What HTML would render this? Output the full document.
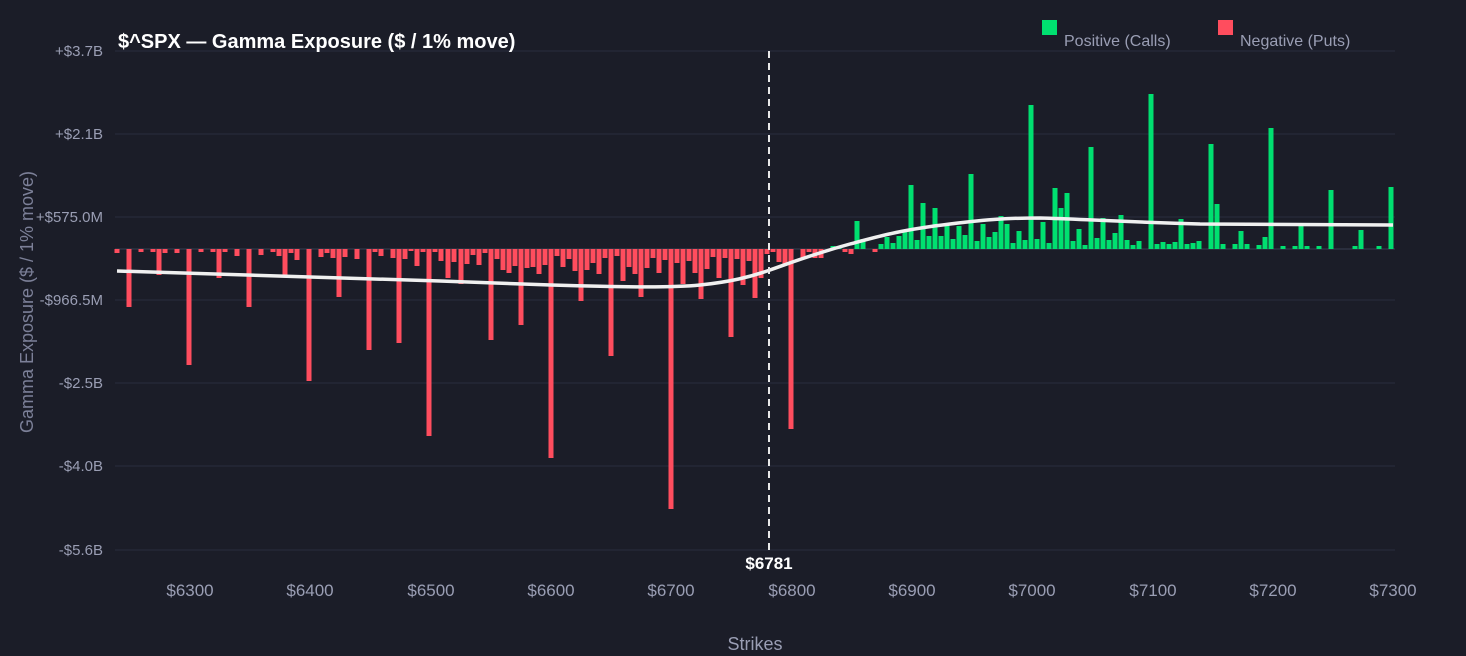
<!DOCTYPE html>
<html><head><meta charset="utf-8"><style>
body{margin:0;background:#1b1d28;}
svg{display:block;font-family:"Liberation Sans",sans-serif;}
</style></head><body>
<svg id="s" width="1466" height="656" viewBox="0 0 1466 656">
<rect width="1466" height="656" fill="#1b1d28"/>
<g stroke="#2a2d3e" stroke-width="1">
<line x1="115" x2="1395" y1="51" y2="51"/><line x1="115" x2="1395" y1="134" y2="134"/>
<line x1="115" x2="1395" y1="217" y2="217"/><line x1="115" x2="1395" y1="300" y2="300"/>
<line x1="115" x2="1395" y1="383" y2="383"/><line x1="115" x2="1395" y1="466" y2="466"/>
<line x1="115" x2="1395" y1="550" y2="550"/>
</g>
<line x1="115" x2="1395" y1="249" y2="249" stroke="#3a3e52" stroke-width="1"/>
<g font-size="15" fill="#9a9eb4" text-anchor="end">
<text x="103" y="56">+$3.7B</text><text x="103" y="139">+$2.1B</text>
<text x="103" y="222">+$575.0M</text><text x="103" y="305">-$966.5M</text>
<text x="103" y="388">-$2.5B</text><text x="103" y="471">-$4.0B</text>
<text x="103" y="555">-$5.6B</text>
</g>
<g font-size="17" fill="#9a9eb4" text-anchor="middle">
<text x="190" y="596">$6300</text><text x="310" y="596">$6400</text><text x="431" y="596">$6500</text>
<text x="551" y="596">$6600</text><text x="671" y="596">$6700</text><text x="792" y="596">$6800</text>
<text x="912" y="596">$6900</text><text x="1032" y="596">$7000</text><text x="1153" y="596">$7100</text>
<text x="1273" y="596">$7200</text><text x="1393" y="596">$7300</text>
<text x="755" y="650" font-size="18">Strikes</text>
</g>
<text transform="translate(33,302) rotate(-90)" font-size="18" fill="#7c8098" text-anchor="middle">Gamma Exposure ($ / 1% move)</text>
<g id="bars"></g>
<path d="M117,271 C250,275 380,280 440,281 C500,283 551,285 551,285 C620,287 670,288 700,285 C730,282 750,277 770,270 C790,263 810,255 850,244 C880,236 900,230 950,224 C990,219 1010,218 1040,218 C1080,219 1100,221 1200,224 C1300,225 1393,225 1393,225" fill="none" stroke="#f0f0f0" stroke-width="3.5"/>
<line x1="769" x2="769" y1="51" y2="550" stroke="#e8e8e8" stroke-width="2" stroke-dasharray="7,5"/>
<text x="769" y="569" font-size="17" font-weight="bold" fill="#fff" text-anchor="middle">$6781</text>
<text x="118" y="48" font-size="20" font-weight="bold" fill="#fff">$^SPX — Gamma Exposure ($ / 1% move)</text>
<rect x="1042" y="20" width="15" height="15" fill="#00e070"/>
<text x="1064" y="46" font-size="16" fill="#9a9eb4">Positive (Calls)</text>
<rect x="1218" y="20" width="15" height="15" fill="#ff4d5e"/>
<text x="1240" y="46" font-size="16" fill="#9a9eb4">Negative (Puts)</text>
</svg>
<script>
var d=[[117,253],[129,307],[141,252],[153,252],[159,275],[165,253],[177,253],[189,365],[201,252],[213,252],[219,278],[225,252],[237,256],[249,307],[261,255],[273,252],[279,256],[285,276],[291,253],[297,260],[309,381],[321,257],[327,253],[333,258],[339,297],[345,257],[357,259],[369,350],[375,252],[381,256],[393,258],[399,343],[405,259],[411,251],[417,266],[423,252],[429,436],[435,252],[441,261],[448,278],[454,262],[461,284],[467,264],[473,255],[479,265],[485,253],[491,340],[497,259],[503,270],[509,273],[515,266],[521,325],[527,268],[533,267],[539,274],[545,265],[551,458],[557,256],[563,267],[569,259],[575,271],[581,301],[587,270],[593,263],[599,274],[605,258],[611,356],[617,256],[623,281],[629,267],[635,274],[641,297],[647,268],[653,258],[659,273],[665,260],[671,509],[677,263],[683,284],[689,261],[695,273],[701,299],[707,269],[713,257],[719,278],[725,258],[731,337],[737,259],[743,285],[749,261],[755,298],[761,278],[767,254],[773,252],[779,262],[785,265],[791,429],[803,258],[809,252],[815,258],[821,258],[833,246],[839,246],[845,252],[851,254],[857,221],[863,239],[875,252],[881,244],[887,237],[893,243],[899,236],[905,230],[911,185],[917,240],[923,203],[929,236],[935,208],[941,236],[947,224],[953,239],[959,226],[965,235],[971,174],[977,241],[983,224],[989,237],[995,232],[1001,216],[1007,224],[1013,243],[1019,231],[1025,240],[1031,105],[1037,239],[1043,222],[1049,243],[1055,188],[1061,208],[1067,193],[1073,241],[1079,229],[1085,245],[1091,147],[1097,238],[1103,218],[1109,240],[1115,233],[1121,215],[1127,240],[1133,245],[1139,241],[1151,94],[1157,244],[1163,242],[1169,244],[1175,242],[1181,219],[1187,244],[1193,243],[1199,241],[1211,144],[1217,204],[1223,244],[1235,244],[1241,231],[1247,244],[1259,245],[1265,237],[1271,128],[1283,246],[1295,246],[1301,225],[1307,246],[1319,246],[1331,190],[1355,246],[1361,230],[1379,246],[1391,187]];
var g=document.getElementById('bars'),h='';
d.forEach(function(b){var x=b[0],y=b[1],z=249;var top=Math.min(y,z),ht=Math.max(Math.abs(y-z),1);
h+='<rect x="'+(x-2.5)+'" y="'+top+'" width="5" height="'+ht+'" fill="'+(y<z?'#00e070':'#ff4d5e')+'"/>';});
g.innerHTML=h;
</script>
</body></html>
